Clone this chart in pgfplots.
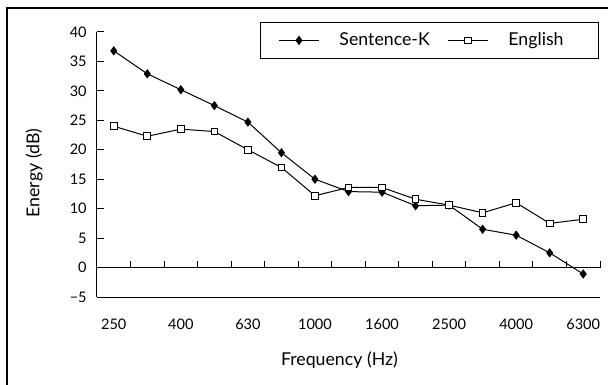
\documentclass[border=0pt]{standalone}
\usepackage{pgfplots}
\pgfplotsset{compat=1.18}
\usepackage{fontspec}
\setmainfont{Lato}
\begin{document}
\fontsize{10.7}{13}\selectfont
\begin{tikzpicture}
\useasboundingbox (0,0) rectangle (456pt,-288.75pt);
\draw[line width=0.9pt] (5.25pt,-288.75pt) -- (5.25pt,-6pt) -- (456pt,-6pt);
\begin{axis}[
  at={(72.75pt,-222.75pt)}, anchor=south west, scale only axis,
  width=377.25pt, height=198.75pt,
  xmin=0, xmax=15, ymin=-5, ymax=40,
  axis x line*=bottom, axis y line*=left,
  axis line style={line width=0.75pt, -},
  xtick={0.5,2.5,...,14.5},
  xticklabels={250,400,630,1000,1600,2500,4000,6300},
  x tick style={draw=none},
  xticklabel style={yshift=-12.5pt},
  ytick={-5,0,...,40},
  yticklabels={−5,0,5,10,15,20,25,30,35,40},
  tick align=inside,
  major tick length=5pt,
  y tick style={line width=0.75pt, black},
  yticklabel style={xshift=-4pt},
  /pgf/number format/assume math mode=true,
  tick label style={font=\fontsize{10.9}{13}\selectfont},
  label style={font=\fontsize{13.3}{16}\selectfont},
  xlabel={Frequency (Hz)},
  ylabel={Energy (dB)},
  xlabel style={at={(axis description cs:0.482,-0.238)}, anchor=center},
  ylabel style={at={(axis description cs:-0.125,0.468)}, anchor=center, rotate=0},
  clip=false,
  legend columns=2,
  legend style={at={(0.998,1.038)}, anchor=north east, draw=black, line width=0.75pt,
    font=\fontsize{13.3}{16}\selectfont, inner xsep=13.5pt, inner ysep=7.8pt,
    nodes={inner sep=0pt},
    /tikz/every odd column/.append style={column sep=15pt},
    /tikz/every even column/.append style={column sep=16.5pt}},
  legend image code/.code={\draw[mark repeat=2,mark phase=2] plot coordinates {(0pt,0pt) (15pt,0pt) (30pt,0pt)};},
]
\draw[line width=0.75pt] (axis cs:0,0) -- (axis cs:15,0);
\pgfplotsinvokeforeach{1,...,15}{\draw[line width=0.75pt] (axis cs:#1,0) -- ([yshift=5pt]axis cs:#1,0);}
\addplot[black, line width=0.75pt, mark=diamond*, mark size=2.9pt, mark options={fill=black}]
 coordinates {(0.5,36.8) (1.5,32.9) (2.5,30.2) (3.5,27.5) (4.5,24.7) (5.5,19.5) (6.5,15.0) (7.5,12.9) (8.5,12.8) (9.5,10.5) (10.5,10.6) (11.5,6.5) (12.5,5.5) (13.5,2.5) (14.5,-1.1)};
\addlegendentry{\makebox[64.5pt][l]{Sentence-K}}
\addplot[black, line width=0.75pt, mark=square*, mark size=2.5pt, mark options={fill=white}]
 coordinates {(0.5,24.0) (1.5,22.3) (2.5,23.5) (3.5,23.1) (4.5,20.0) (5.5,17.0) (6.5,12.2) (7.5,13.6) (8.5,13.6) (9.5,11.6) (10.5,10.6) (11.5,9.3) (12.5,11.0) (13.5,7.5) (14.5,8.2)};
\addlegendentry{\makebox[54pt][l]{English}}
\end{axis}
\end{tikzpicture}
\end{document}
